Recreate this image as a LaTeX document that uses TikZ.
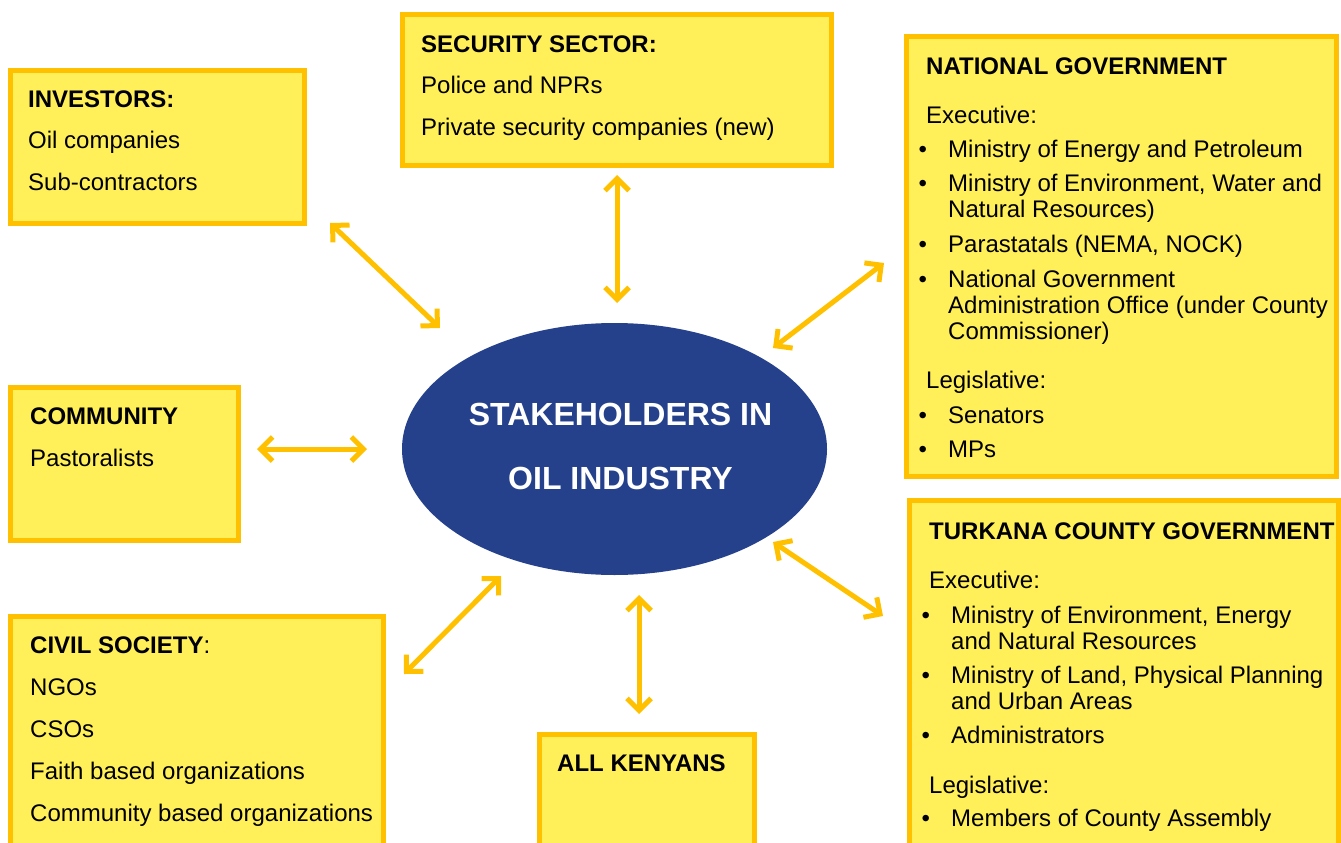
\documentclass[tikz,border=0pt]{standalone}
\usepackage{fontspec}
\setmainfont{Liberation Sans}
\usetikzlibrary{arrows.meta,shapes.geometric}
\definecolor{boxfill}{RGB}{255,240,90}
\definecolor{boxline}{RGB}{255,192,0}
\definecolor{ovalblue}{RGB}{38,65,140}
\newcommand{\bitem}[1]{\makebox[29.5pt][l]{\textbullet}#1}
\newcommand{\bcont}[1]{\hspace*{29.5pt}#1}
\newcommand{\bhead}[1]{\hspace*{7.5pt}#1}

\begin{document}
\begin{tikzpicture}[x=1pt,y=-1pt,
  kasten/.style={draw=boxline,fill=boxfill,line width=5pt,anchor=north west,inner sep=0pt,outer sep=0pt},
  txt/.style={anchor=base west,align=left,inner sep=0pt,font=\fontsize{24}{26}\selectfont},
  pfeil/.style={draw=boxline,line width=5pt,{Straight Barb[length=12pt,width=24pt]}-{Straight Barb[length=12pt,width=24pt]}}]
  \useasboundingbox (0,0) rectangle (1341,843);
  % Kaesten
  \node[kasten,minimum width=294pt,minimum height=153pt] (inv) at (10.5,70.5) {};
  \node[kasten,minimum width=429pt,minimum height=151pt] (sec) at (402.5,14.5) {};
  \node[kasten,minimum width=430pt,minimum height=440pt] (nat) at (906.5,36.5) {};
  \node[kasten,minimum width=228pt,minimum height=153pt] (com) at (10.5,387.5) {};
  \node[kasten,minimum width=373pt,minimum height=260pt] (civ) at (10.5,616.5) {};
  \node[kasten,minimum width=215pt,minimum height=150pt] (ken) at (539.5,734.5) {};
  \node[kasten,minimum width=428.5pt,minimum height=380pt] (tur) at (909.5,500.5) {};
  % Mitte
  \node[ellipse,fill=ovalblue,minimum width=425pt,minimum height=252pt,inner sep=0pt] (stake) at (614.5,449) {};
  \node[anchor=base,align=center,inner sep=0pt,text=white,font=\bfseries\fontsize{32}{32}\selectfont] (stake-txt) at (620.5,489)
    {STAKEHOLDERS IN\\[32pt]OIL INDUSTRY};
  % Texte (Anker = Grundlinie der letzten Zeile)
  \node[txt] (inv-txt) at (28,190) {\textbf{INVESTORS:}\\[15.5pt]Oil companies\\[15.5pt]Sub-contractors};
  \node[txt] (sec-txt) at (421,135) {\textbf{SECURITY SECTOR:}\\[15.5pt]Police and NPRs\\[15.5pt]Private security companies (new)};
  \node[txt] (com-txt) at (30,466.7) {\textbf{COMMUNITY}\\[16pt]Pastoralists};
  \node[txt] (civ-txt) at (30,821) {\textbf{CIVIL SOCIETY}:\\[16pt]NGOs\\[16pt]CSOs\\[16pt]Faith based organizations\\[16pt]Community based organizations};
  \node[txt] (ken-txt) at (557,771.7) {\textbf{ALL KENYANS}};
  \node[txt] (nat-txt) at (918.5,457.3) {\bhead{\textbf{NATIONAL GOVERNMENT}}\\[23pt]
    \bhead{Executive:}\\[8.5pt]
    \bitem{Ministry of Energy and Petroleum}\\[7.5pt]
    \bitem{Ministry of Environment, Water and}\\
    \bcont{Natural Resources)}\\[9pt]
    \bitem{Parastatals (NEMA, NOCK)}\\[9pt]
    \bitem{National Government}\\
    \bcont{Administration Office (under County}\\
    \bcont{Commissioner)}\\[23pt]
    \bhead{Legislative:}\\[9pt]
    \bitem{Senators}\\[8pt]
    \bitem{MPs}};
  \node[txt] (tur-txt) at (921.5,826.7) {\bhead{\textbf{TURKANA COUNTY GOVERNMENT}}\\[23pt]
    \bhead{Executive:}\\[8.4pt]
    \bitem{Ministry of Environment, Energy}\\
    \bcont{and Natural Resources}\\[8pt]
    \bitem{Ministry of Land, Physical Planning}\\
    \bcont{and Urban Areas}\\[8pt]
    \bitem{Administrators}\\[24pt]
    \bhead{Legislative:}\\[7.5pt]
    \bitem{Members of County Assembly}};
  % Pfeile
  \coordinate (p-inv-1) at (330,223); \coordinate (p-inv-2) at (440,328);
  \coordinate (p-sec-1) at (617,175); \coordinate (p-sec-2) at (617,303);
  \coordinate (p-nat-1) at (884,263); \coordinate (p-nat-2) at (773,348);
  \coordinate (p-com-1) at (257,449); \coordinate (p-com-2) at (367,449);
  \coordinate (p-civ-1) at (501,576); \coordinate (p-civ-2) at (404,674);
  \coordinate (p-ken-1) at (639,595); \coordinate (p-ken-2) at (639,714);
  \coordinate (p-tur-1) at (773,542); \coordinate (p-tur-2) at (883,616);
  \foreach \n in {inv,sec,nat,com,civ,ken,tur}
    \draw[pfeil] (p-\n-1) -- (p-\n-2);
\end{tikzpicture}
\end{document}
